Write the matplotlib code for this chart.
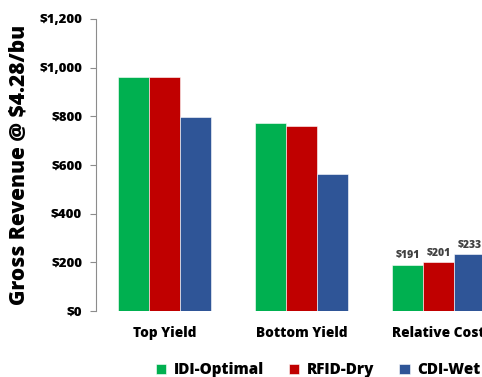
import matplotlib
matplotlib.use("Agg")
from matplotlib import pyplot as plt
import numpy as np

categories = ["Top Yield", "Bottom Yield", "Relative Cost"]
series_names = ["IDI-Optimal", "RFID-Dry", "CDI-Wet"]
idi_optimal = [962, 772, 191]
rfid_dry = [962, 762, 201]
cdi_wet = [797, 563, 233]
colors = ["#00B050", "#C00000", "#2F5597"]

plt.rcParams['font.family'] = ['Open Sans', 'DejaVu Sans']
heavy = 800

fig = plt.figure(figsize=(4.82, 3.77), dpi=100)
# axes run past the right edge, the last group gets cut off
ax = fig.add_axes([96 / 482, 66 / 377, 411 / 482, 292 / 377])

x = np.arange(len(categories))
w = 0.224
values = [idi_optimal, rfid_dry, cdi_wet]
for i, (name, vals, c) in enumerate(zip(series_names, values, colors)):
    ax.bar(x + (i - 1) * w, vals, width=w, color=c, label=name,
           edgecolor='white', linewidth=0.4)
    # only the cost group gets value labels
    ax.text(x[2] + (i - 1) * w, vals[2] + 14, "${:,}".format(vals[2]),
            ha='center', va='bottom', fontsize=7.5, fontweight=heavy, color='#404040')

ax.set_xlim(-0.5, 2.5)
ax.set_ylim(0, 1200)
ax.set_yticks(range(0, 1201, 200))
ax.set_yticklabels(["${:,}".format(v) for v in range(0, 1201, 200)])
ax.set_xticks(x)
ax.set_xticklabels(categories)

for s in ['top', 'right', 'bottom']:
    ax.spines[s].set_visible(False)
ax.spines['left'].set_color('#8c8c8c')
ax.spines['left'].set_linewidth(0.8)
ax.tick_params(axis='y', length=4, color='#8c8c8c', width=0.8, labelsize=9.5, pad=6)
ax.tick_params(axis='x', length=0, labelsize=9.8, pad=11)
for lab in ax.get_xticklabels() + ax.get_yticklabels():
    lab.set_fontweight(heavy)

ax.set_ylabel("Gross Revenue @ $4.28/bu", fontsize=15, fontweight=heavy)
ax.yaxis.set_label_coords(-66 / 411, 0.5)

fig.legend(loc='center', bbox_to_anchor=(0.66, 0.018), ncol=3, frameon=False,
           handlelength=0.7, handleheight=0.7, handletextpad=0.5, columnspacing=1.6,
           prop={'size': 11, 'weight': heavy})

fig.savefig("out.png", dpi=100)
